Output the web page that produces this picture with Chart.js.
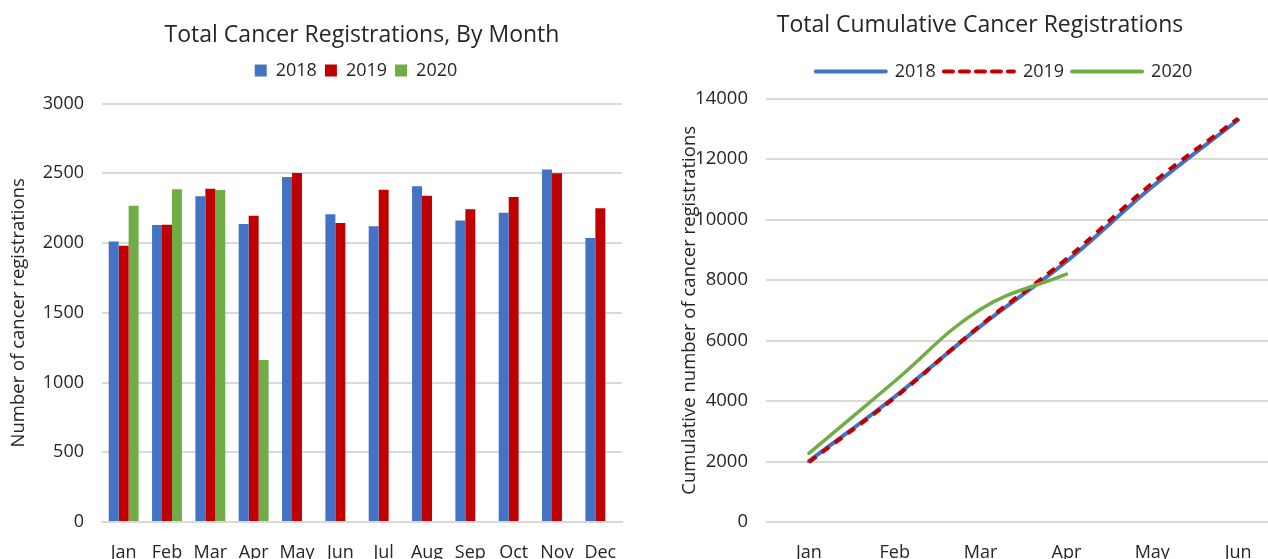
<!DOCTYPE html>
<html lang="en">
<head>
    <meta charset="UTF-8">
    <title>Cancer Registrations</title>
    <script src="https://cdn.jsdelivr.net/npm/chart.js"></script>
    <style>
        html, body { margin: 0; padding: 0; background: #fff; overflow: hidden; }
        body { width: 1268px; height: 559px; position: relative; }
        .box { position: absolute; top: 0; }
        #left { left: 0; width: 640px; height: 559px; }
        #right { left: 679px; width: 660px; height: 559px; }
    </style>
</head>
<body>
    <div class="box" id="left"><canvas id="monthChart"></canvas></div>
    <div class="box" id="right"><canvas id="cumChart"></canvas></div>

    <script>
        // monthly values
        const months = ['Jan', 'Feb', 'Mar', 'Apr', 'May', 'Jun', 'Jul', 'Aug', 'Sep', 'Oct', 'Nov', 'Dec'];
        const reg2018 = [2011, 2129, 2336, 2136, 2473, 2207, 2121, 2407, 2161, 2218, 2528, 2036];
        const reg2019 = [1981, 2131, 2390, 2195, 2502, 2143, 2383, 2340, 2243, 2331, 2500, 2250];
        const reg2020 = [2268, 2386, 2381, 1162, null, null, null, null, null, null, null, null];

        // cumulative lines, Jan-Jun
        const cumMonths = ['Jan', 'Feb', 'Mar', 'Apr', 'May', 'Jun'];
        const cum2018 = [2011, 4140, 6476, 8612, 11085, 13292];
        const cum2019 = [1981, 4112, 6502, 8697, 11199, 13342];
        const cum2020 = [2268, 4654, 7035, 8197];

        const blue = '#4472C4', red = '#C00000', green = '#70AD47';
        const txt = '#262626', grid = '#d9d9d9';

        Chart.defaults.font.family = "'Open Sans', sans-serif";
        Chart.defaults.color = txt;
        Chart.defaults.animation = false;

        // extra room under the legend, and optional sideways nudge
        const legendTweak = {
            id: 'legendTweak',
            beforeInit(chart, args, opts) {
                const lg = chart.legend;
                const fit = lg.fit;
                lg.fit = function () {
                    fit.call(this);
                    this.height += opts.gap || 0;
                };
            },
            afterLayout(chart, args, opts) {
                if (opts.shift) {
                    chart.legend.left += opts.shift;
                    chart.legend.right += opts.shift;
                }
            }
        };

        const plain = (v) => String(v);

        // line swatches that keep the dash of their dataset
        const lineLabels = (chart) => {
            const items = Chart.defaults.plugins.legend.labels.generateLabels(chart);
            items.forEach((it) => {
                const ds = chart.data.datasets[it.datasetIndex];
                it.lineDash = ds.borderDash || [];
                it.lineWidth = 4;
                it.strokeStyle = ds.borderColor;
                it.lineCap = 'round';
            });
            return items.sort((a, b) => a.datasetIndex - b.datasetIndex);
        };

        new Chart(document.getElementById('monthChart'), {
            type: 'bar',
            data: {
                labels: months,
                datasets: [
                    { label: '2018', data: reg2018, backgroundColor: blue },
                    { label: '2019', data: reg2019, backgroundColor: red },
                    { label: '2020', data: reg2020, backgroundColor: green }
                ]
            },
            plugins: [legendTweak],
            options: {
                responsive: true,
                maintainAspectRatio: false,
                categoryPercentage: 0.69,
                barPercentage: 1.0,
                layout: { padding: { right: 18 } },
                plugins: {
                    title: {
                        display: true,
                        fullSize: false,
                        text: 'Total Cancer Registrations, By Month',
                        font: { size: 23, weight: 'normal' },
                        color: txt,
                        padding: { top: 22, bottom: 4 }
                    },
                    legend: {
                        fullSize: false,
                        labels: { boxWidth: 12, boxHeight: 12, font: { size: 18 }, padding: 8 }
                    },
                    legendTweak: { gap: 14, shift: -6 },
                    tooltip: { enabled: false }
                },
                scales: {
                    x: {
                        grid: { display: false },
                        border: { color: grid, width: 2 },
                        ticks: { font: { size: 18 }, padding: 12, maxRotation: 0 },
                        afterFit: (s) => { s.height = 37; }
                    },
                    y: {
                        min: 0, max: 3000,
                        ticks: { stepSize: 500, font: { size: 18 }, padding: 18, callback: plain },
                        grid: { color: grid, lineWidth: 2, drawTicks: false },
                        border: { display: false },
                        title: { display: true, text: 'Number of cancer registrations', font: { size: 18.5 }, padding: { top: 8, bottom: 0 } },
                        afterFit: (s) => { s.width = 102; }
                    }
                }
            }
        });

        new Chart(document.getElementById('cumChart'), {
            type: 'line',
            data: {
                labels: cumMonths,
                datasets: [
                    { label: '2018', data: cum2018, borderColor: blue, backgroundColor: blue, borderWidth: 4, tension: 0.4, pointRadius: 0, borderCapStyle: 'round', order: 3 },
                    { label: '2019', data: cum2019, borderColor: red, backgroundColor: red, borderWidth: 4, borderDash: [9, 7], tension: 0.4, pointRadius: 0, order: 2 },
                    { label: '2020', data: cum2020, borderColor: green, backgroundColor: green, borderWidth: 3.5, tension: 0.4, pointRadius: 0, borderCapStyle: 'round', order: 1 }
                ]
            },
            plugins: [legendTweak],
            options: {
                responsive: true,
                maintainAspectRatio: false,
                layout: { padding: { right: 58 } },
                plugins: {
                    title: {
                        display: true,
                        text: 'Total Cumulative Cancer Registrations',
                        font: { size: 23, weight: 'normal' },
                        color: txt,
                        padding: { top: 12, bottom: 15 }
                    },
                    legend: {
                        labels: {
                            usePointStyle: true, pointStyle: 'line', pointStyleWidth: 70,
                            font: { size: 18 }, padding: 8,
                            generateLabels: lineLabels
                        }
                    },
                    legendTweak: { gap: 8, shift: 24 },
                    tooltip: { enabled: false }
                },
                scales: {
                    x: {
                        offset: true,
                        grid: { display: false },
                        border: { display: false },
                        ticks: { font: { size: 18 }, padding: 12 },
                        afterFit: (s) => { s.height = 37; }
                    },
                    y: {
                        min: 0, max: 14000,
                        ticks: { stepSize: 2000, font: { size: 18.5 }, padding: 18, callback: plain },
                        grid: { color: grid, lineWidth: 2, drawTicks: false },
                        border: { display: false },
                        title: { display: true, text: 'Cumulative number of cancer registrations', font: { size: 18.5 }, padding: { top: 0, bottom: 0 } },
                        afterFit: (s) => { s.width = 87; }
                    }
                }
            }
        });
    </script>
</body>
</html>
